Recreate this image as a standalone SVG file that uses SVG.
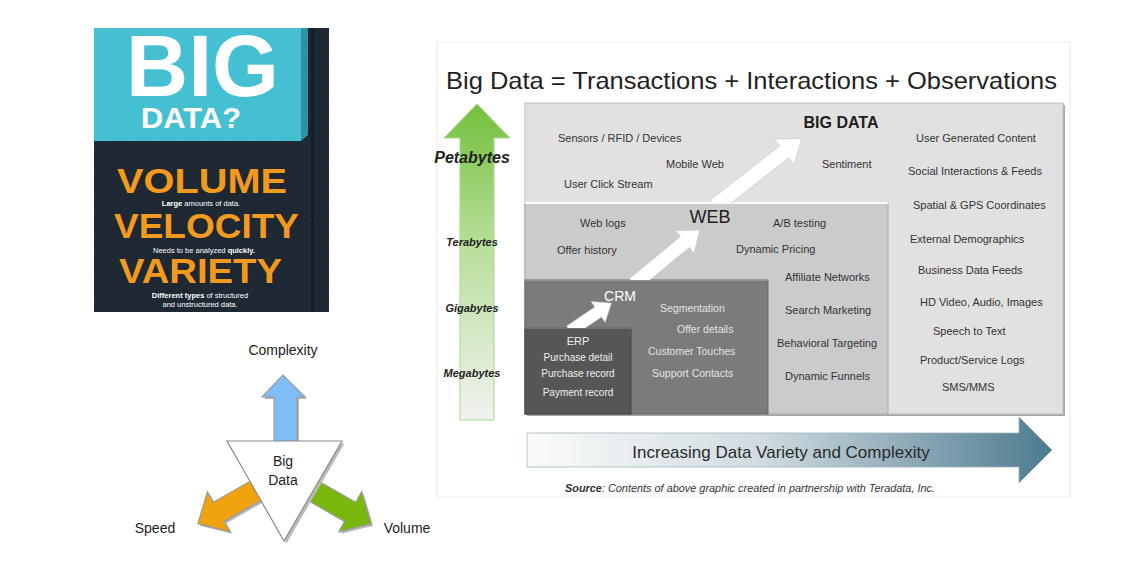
<svg xmlns="http://www.w3.org/2000/svg" width="1123" height="569" viewBox="0 0 1123 569">
<style>
text{font-family:"Liberation Sans",Arial,sans-serif}
.it{font-size:11px;fill:#333}
.lt{font-size:10.5px;fill:#e4e4e4}
.erp{font-size:10px;fill:#eee;text-anchor:middle}
.scale{font-size:11px;font-weight:bold;font-style:italic;fill:#222;text-anchor:middle}
.wa{fill:#fff;stroke:#c8c8c8;stroke-width:0.6}
.pv{font-weight:900;fill:#f39a1e;font-size:35px}
.pd{font-size:7.5px;fill:#fff;text-anchor:middle}
.tl{font-size:14px;fill:#222;text-anchor:middle}
.sh{fill:#b5b5b5}
</style>
<defs>
<linearGradient id="gGreen" x1="0" y1="0" x2="0" y2="1">
<stop offset="0" stop-color="#72c03c"/>
<stop offset="0.45" stop-color="#b9df9b"/>
<stop offset="1" stop-color="#f1f2f0"/>
</linearGradient>
<linearGradient id="gBlue" x1="0" y1="0" x2="1" y2="0">
<stop offset="0" stop-color="#fbfbfb"/>
<stop offset="0.45" stop-color="#cfdbe0"/>
<stop offset="1" stop-color="#4d7a8f"/>
</linearGradient>
<pattern id="stripes" width="16" height="16" patternUnits="userSpaceOnUse" patternTransform="rotate(-40)">
<rect width="16" height="16" fill="#1d2833"/>
<line x1="0" y1="0" x2="16" y2="0" stroke="#2a3644" stroke-width="1"/>
</pattern>
<clipPath id="c1"><rect x="520" y="100" width="550" height="103"/></clipPath>
<clipPath id="c2"><rect x="520" y="200" width="550" height="80"/></clipPath>
<clipPath id="c3"><rect x="520" y="270" width="550" height="58"/></clipPath>
<polygon id="arr3" points="0,-11 44,-11 44,-23 68,0 44,23 44,11 0,11"/>
</defs>
<rect width="1123" height="569" fill="#fff"/>

<!-- Poster -->
<g id="poster">
<rect x="94" y="28" width="235" height="284" fill="url(#stripes)"/>
<rect x="94" y="28" width="207" height="113" fill="#44c0d2"/>
<polygon points="301,28 308,28 308,135 301,141" fill="#2e93a3"/>
<rect x="311" y="28" width="3" height="284" fill="#141c25"/>
<text x="126" y="96" font-size="88" font-weight="bold" fill="#fff" textLength="153" lengthAdjust="spacingAndGlyphs">BIG</text>
<text x="141" y="128" font-size="30" font-weight="bold" fill="#fff" textLength="100" lengthAdjust="spacingAndGlyphs">DATA?</text>
<text class="pv" x="117" y="193" textLength="170" lengthAdjust="spacingAndGlyphs">VOLUME</text>
<text class="pd" x="201" y="205.5"><tspan font-weight="bold">Large</tspan> amounts of data.</text>
<text class="pv" x="114" y="238" textLength="185" lengthAdjust="spacingAndGlyphs">VELOCITY</text>
<text class="pd" x="204" y="252.5">Needs to be analyzed <tspan font-weight="bold">quickly.</tspan></text>
<text class="pv" x="119" y="283" textLength="163" lengthAdjust="spacingAndGlyphs">VARIETY</text>
<text class="pd" x="200" y="298"><tspan font-weight="bold">Different types</tspan> of structured</text>
<text class="pd" x="200" y="307">and unstructured data.</text>
</g>

<!-- Triangle diagram -->
<g id="arrows3">
<g id="arrow-complexity">
<polygon class="sh" transform="translate(2,2)" points="274,443 274,397 262,397 283,375 305,397 297,397 297,443"/>
<polygon points="274,443 274,397 262,397 283,375 305,397 297,397 297,443" fill="#7fbdf7" stroke="#9a9a9a" stroke-width="1.2"/>
</g>
<g id="arrow-speed">
<use href="#arr3" class="sh" transform="translate(259,492) rotate(150.3)"/>
<use href="#arr3" fill="#f0a30f" stroke="#9a9a9a" stroke-width="1.2" transform="translate(257,490) rotate(150.3)"/>
</g>
<g id="arrow-volume">
<use href="#arr3" class="sh" transform="translate(314,492) rotate(29.7)"/>
<use href="#arr3" fill="#78b80c" stroke="#9a9a9a" stroke-width="1.2" transform="translate(312,490) rotate(29.7)"/>
</g>
</g>
<g id="bigdata-triangle">
<polygon points="228,442 343,442 285,542" fill="#bbb" transform="translate(1.5,1.5)"/>
<polygon points="227,441 342,441 284,541" fill="#fff" stroke="#8a8a8a" stroke-width="1.2"/>
<text class="tl" x="283" y="466">Big</text>
<text class="tl" x="283" y="485">Data</text>
</g>
<text class="tl" x="283" y="355">Complexity</text>
<text class="tl" x="155" y="533">Speed</text>
<text class="tl" x="407" y="533">Volume</text>

<!-- Main chart -->
<rect x="437" y="42" width="633" height="455" fill="none" stroke="#ececec" stroke-width="1"/>
<text x="446" y="89" font-size="24" fill="#222" textLength="611" lengthAdjust="spacingAndGlyphs">Big Data = Transactions + Interactions + Observations</text>

<g id="size-axis">
<polygon points="460,420 460,138 444,138 477,104 510,138 494,138 494,420" fill="url(#gGreen)" stroke="#a8d88a" stroke-width="1"/>
<text x="472" y="163" font-size="16" font-weight="bold" font-style="italic" fill="#222" text-anchor="middle">Petabytes</text>
<text class="scale" x="472" y="246">Terabytes</text>
<text class="scale" x="472" y="312">Gigabytes</text>
<text class="scale" x="472" y="377">Megabytes</text>
</g>

<g id="box-bigdata">
<rect x="527" y="105" width="538" height="311" fill="#a8a8a8"/>
<rect x="525" y="103" width="538" height="311" fill="#e1e1e1" stroke="#bcbcbc" stroke-width="1"/>
<text x="841" y="128" font-size="16" font-weight="bold" fill="#1e1e1e" text-anchor="middle">BIG DATA</text>
<text class="it" x="558" y="142">Sensors / RFID / Devices</text>
<text class="it" x="666" y="168">Mobile Web</text>
<text class="it" x="564" y="188">User Click Stream</text>
<text class="it" x="822" y="168">Sentiment</text>
<text class="it" x="916" y="142">User Generated Content</text>
<text class="it" x="908" y="175">Social Interactions &amp; Feeds</text>
<text class="it" x="913" y="209">Spatial &amp; GPS Coordinates</text>
<text class="it" x="910" y="243">External Demographics</text>
<text class="it" x="918" y="274">Business Data Feeds</text>
<text class="it" x="920" y="306">HD Video, Audio, Images</text>
<text class="it" x="933" y="335">Speech to Text</text>
<text class="it" x="920" y="364">Product/Service Logs</text>
<text class="it" x="942" y="391">SMS/MMS</text>
</g>

<g id="box-web">
<rect x="525" y="203" width="363" height="211" fill="#cbcbcb" stroke="#aaaaaa" stroke-width="1"/>
<line x1="525" y1="203" x2="888" y2="203" stroke="#fafafa" stroke-width="2"/>
<text x="710" y="223" font-size="18" fill="#1e1e1e" text-anchor="middle">WEB</text>
<text class="it" x="580" y="227">Web logs</text>
<text class="it" x="557" y="254">Offer history</text>
<text class="it" x="773" y="227">A/B testing</text>
<text class="it" x="736" y="253">Dynamic Pricing</text>
<text class="it" x="785" y="281">Affiliate Networks</text>
<text class="it" x="785" y="314">Search Marketing</text>
<text class="it" x="777" y="347">Behavioral Targeting</text>
<text class="it" x="785" y="380">Dynamic Funnels</text>
</g>

<g id="box-crm">
<rect x="525" y="280" width="243" height="134" fill="#7b7b7b" stroke="#666" stroke-width="1"/>
<line x1="525" y1="280" x2="768" y2="280" stroke="#9c9c9c" stroke-width="1.5"/>
<text x="620" y="301" font-size="14" fill="#fff" text-anchor="middle">CRM</text>
<text class="lt" x="660" y="312">Segmentation</text>
<text class="lt" x="677" y="333">Offer details</text>
<text class="lt" x="648" y="355">Customer Touches</text>
<text class="lt" x="652" y="377">Support Contacts</text>
</g>

<g id="box-erp">
<rect x="525" y="328" width="106" height="86" fill="#565656" stroke="#484848" stroke-width="1"/>
<line x1="525" y1="328" x2="631" y2="328" stroke="#7a7a7a" stroke-width="1.5"/>
<text x="578" y="345" font-size="11" fill="#f2f2f2" text-anchor="middle">ERP</text>
<text class="erp" x="578" y="361">Purchase detail</text>
<text class="erp" x="578" y="377">Purchase record</text>
<text class="erp" x="578" y="396">Payment record</text>
</g>

<g id="connectors">
<g clip-path="url(#c1)"><polygon class="wa" transform="translate(715,206) rotate(-38)" points="0,-7.5 88,-7.5 88,-16 110,0 88,16 88,7.5 0,7.5"/></g>
<g clip-path="url(#c2)"><polygon class="wa" transform="translate(634,284) rotate(-39.5)" points="0,-7 66,-7 66,-14.5 85,0 66,14.5 66,7 0,7"/></g>
<g clip-path="url(#c3)"><polygon class="wa" transform="translate(570,331) rotate(-34)" points="0,-6 34,-6 34,-12.5 50,0 34,12.5 34,6 0,6"/></g>
</g>

<g id="variety-axis">
<polygon points="527,433 1019,433 1019,417 1052,450 1019,483 1019,467 527,467" fill="url(#gBlue)" stroke="#9fb4bd" stroke-width="0.8"/>
<text x="781" y="458" font-size="17" fill="#2a2a2a" text-anchor="middle">Increasing Data Variety and Complexity</text>
</g>
<text x="565" y="492" font-size="10" font-style="italic" fill="#333" textLength="370" lengthAdjust="spacingAndGlyphs"><tspan font-weight="bold">Source</tspan>: Contents of above graphic created in partnership with Teradata, Inc.</text>
</svg>
